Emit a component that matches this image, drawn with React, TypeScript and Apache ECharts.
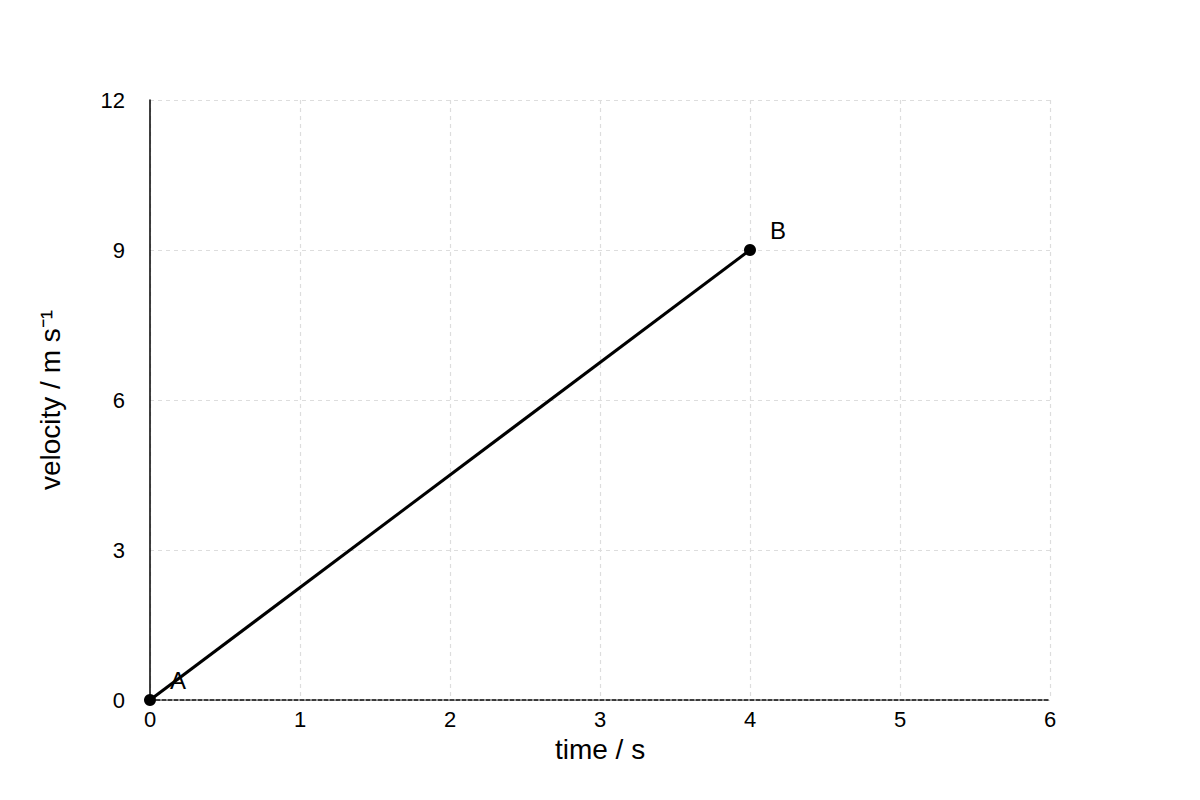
import React, { useEffect, useRef } from "react";
import * as echarts from "echarts";

const pointNames = ["A", "B"];
const timeValues = [0, 4];
const velocityValues = [0, 9];
const xTicks = [0, 1, 2, 3, 4, 5, 6];
const yTicks = [0, 3, 6, 9, 12];

export default function App() {
  const ref = useRef<HTMLDivElement>(null);
  useEffect(() => {
    if (!ref.current) return;
    const chart = echarts.init(ref.current, null, { renderer: "svg" });
    const font = "Liberation Sans, Arial, sans-serif";
    const data = timeValues.map((t, i) => ({
      value: [t, velocityValues[i]],
      name: pointNames[i],
    }));
    chart.setOption({
      animation: false,
      backgroundColor: "#ffffff",
      textStyle: { fontFamily: font },
      grid: { left: 150, right: 150, top: 100, bottom: 100 },
      xAxis: {
        type: "value",
        min: xTicks[0],
        max: xTicks[xTicks.length - 1],
        interval: 1,
        name: "time / s",
        nameLocation: "middle",
        nameGap: 35,
        nameTextStyle: { fontSize: 28, color: "#000", fontFamily: font },
        axisLine: {
          show: true,
          onZero: false,
          lineStyle: { color: "#000", width: 1.5, type: [4, 2] },
        },
        axisTick: { show: false },
        axisLabel: { fontSize: 22, color: "#000", margin: 8, fontFamily: font },
        splitLine: {
          show: true,
          lineStyle: { color: "#dddddd", width: 1.2, type: [4, 4] },
        },
      },
      yAxis: {
        type: "value",
        min: yTicks[0],
        max: yTicks[yTicks.length - 1],
        interval: 3,
        name: "velocity / m s⁻¹",
        nameLocation: "middle",
        nameGap: 86,
        nameTextStyle: { fontSize: 28, color: "#000", fontFamily: font },
        axisLine: { show: true, onZero: false, lineStyle: { color: "#000", width: 1.5 } },
        axisTick: { show: false },
        axisLabel: {
          fontSize: 22,
          color: "#000",
          margin: 25,
          fontFamily: font,
          padding: [0, 0, 6, 0],
        },
        splitLine: {
          show: true,
          lineStyle: { color: "#dddddd", width: 1.2, type: [4, 4] },
        },
      },
      series: [
        {
          type: "line",
          data,
          symbol: "circle",
          symbolSize: 12,
          showAllSymbol: true,
          itemStyle: { color: "#000" },
          lineStyle: { color: "#000", width: 3 },
          label: {
            show: true,
            position: "right",
            offset: [9, -20],
            formatter: (p: any) => p.name,
            fontSize: 24,
            color: "#000",
            fontFamily: font,
          },
          z: 5,
        },
      ],
    });
    return () => chart.dispose();
  }, []);
  return <div ref={ref} style={{ width: 1200, height: 800, margin: -8 }} />;
}
